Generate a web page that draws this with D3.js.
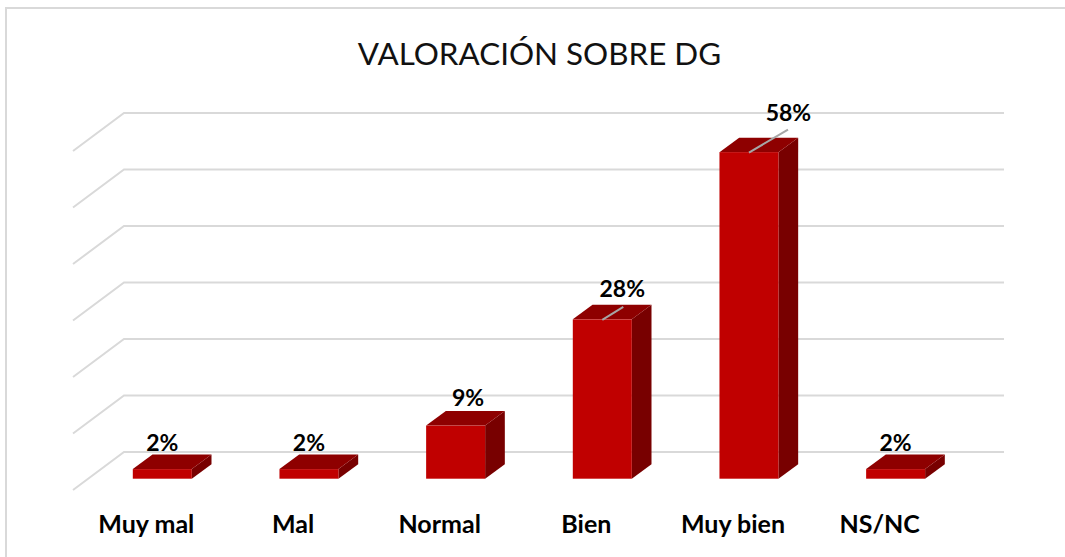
<!DOCTYPE html>
<html><head><meta charset="utf-8">
<style>html,body{margin:0;padding:0;background:#fff}svg{display:block}</style>
<script src="https://cdn.jsdelivr.net/npm/d3@7"></script></head>
<body><svg id="c" width="1065" height="557"></svg>
<script>
const titleText = "VALORACIÓN SOBRE DG";
const categories = ["Muy mal","Mal","Normal","Bien","Muy bien","NS/NC"];
const values = [1.7,1.7,9.4,28.2,57.8,1.7];
const gridTicks = [0,10,20,30,40,50,60];

const svg=d3.select("#c");
const font="Lato, Carlito, Calibri, sans-serif";

// plot geometry
const floorFrontX=73, floorBackX=124, wallRight=1004;
const wallY=d3.scaleLinear().domain([0,60]).range([452,113]);
const floorDY=38;
const x=d3.scaleBand().domain(categories).range([floorFrontX,floorFrontX+880]);
const barW=59, depthX=19.7, depthY=14.5, barInset=59.8;
const barBase=478.7;
const y=d3.scaleLinear().domain([0,60]).range([barBase,barBase-339]);
// label placement follows the bar height, as the original's manual nudges do
const labelDX=d3.scaleLinear().domain([1.7,9.4,28.2,57.8]).range([0,12.5,20,39.5]);
const labelDY=d3.scaleLinear().domain([1.7,9.4,28.2,57.8]).range([18.4,19.2,22.3,31]);
const leaderDX=d3.scaleLinear().domain([28.2,57.8]).range([21,39]);
const leaderDY=d3.scaleLinear().domain([28.2,57.8]).range([13,23]);

// chart border: only the top and left edges fall inside the picture
const frame=svg.append("g").attr("stroke","#d9d9d9").attr("stroke-width",2).attr("fill","none");
frame.append("path").attr("d",d3.line()([[6,557],[6,8],[1065,8]]));

// gridlines
const grid=svg.append("g").attr("fill","none").attr("stroke","#d9d9d9").attr("stroke-width",2);
grid.selectAll("path").data(gridTicks).join("path")
  .attr("d",d=>d3.line()([[floorFrontX,wallY(d)+floorDY],[floorBackX,wallY(d)],[wallRight,wallY(d)]]));

// bars
const bars=svg.append("g").selectAll("g").data(categories.map((c,i)=>({c,v:values[i]}))).join("g");
const x0=d=>x(d.c)+barInset;
bars.append("path").attr("fill","#780000")
  .attr("d",d=>{const a=x0(d)+barW,t=y(d.v);return d3.line()([[a,t],[a+depthX,t-depthY],[a+depthX,barBase-depthY],[a,barBase]])+"Z";});
bars.append("path").attr("fill","#8e0000")
  .attr("d",d=>{const a=x0(d),t=y(d.v);return d3.line()([[a,t],[a+depthX,t-depthY],[a+barW+depthX,t-depthY],[a+barW,t]])+"Z";});
bars.append("rect").attr("fill","#c00000")
  .attr("x",x0).attr("y",d=>y(d.v)).attr("width",barW).attr("height",d=>barBase-y(d.v));

// leader lines
bars.filter(d=>d.v>=20).append("line").attr("stroke","#a6a6a6").attr("stroke-width",2)
  .attr("x1",d=>x0(d)+barW/2).attr("y1",d=>y(d.v)+0.5)
  .attr("x2",d=>x0(d)+barW/2+leaderDX(d.v)).attr("y2",d=>y(d.v)+0.5-leaderDY(d.v));

// value labels
bars.append("text").text(d=>Math.round(d.v)+"%")
  .attr("x",d=>x0(d)+barW/2+labelDX(d.v)).attr("y",d=>y(d.v)-labelDY(d.v))
  .attr("text-anchor","middle").attr("font-family",font).attr("font-weight",700)
  .attr("font-size",23).attr("fill","#000");

// category labels
svg.append("g").selectAll("text").data(categories).join("text").text(d=>d)
  .attr("x",d=>x(d)+x.bandwidth()/2).attr("y",533)
  .attr("text-anchor","middle").attr("font-family",font).attr("font-weight",700)
  .attr("font-size",25).attr("fill","#000");

// title
svg.append("text").text(titleText).attr("x",539.5).attr("y",64.5)
  .attr("text-anchor","middle").attr("font-family",font).attr("font-size",31.4).attr("fill","#111");
</script></body></html>
